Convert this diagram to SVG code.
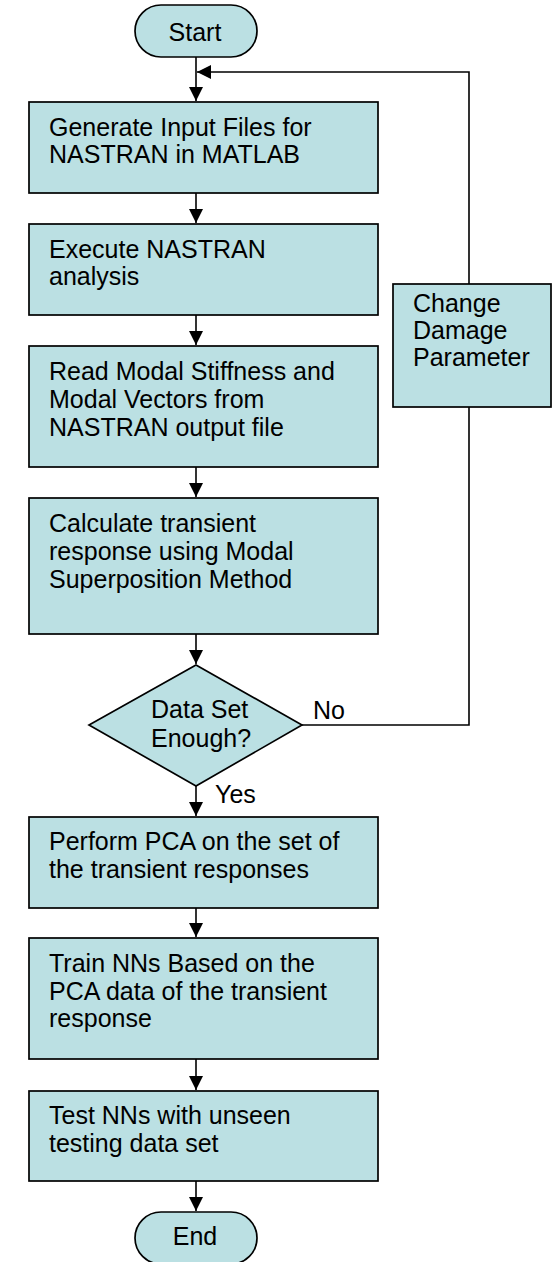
<svg xmlns="http://www.w3.org/2000/svg" width="552" height="1262" viewBox="0 0 552 1262">
<defs>
<style>
.n{fill:#BBE0E3;stroke:#000;stroke-width:1.7}
.c{fill:none;stroke:#000;stroke-width:1.6}
text{font-family:"Liberation Sans",Arial,sans-serif;font-size:25px;fill:#000}
</style>
<marker id="ah" markerUnits="userSpaceOnUse" markerWidth="16" markerHeight="16" refX="14" refY="7" orient="auto">
<path d="M0,0 L14,7 L0,14 Z" fill="#000"/>
</marker>
</defs>
<rect width="552" height="1262" fill="#fff"/>
<g id="connectors">
<line class="c" x1="196" y1="57" x2="196" y2="101" marker-end="url(#ah)"/>
<line class="c" x1="196" y1="193" x2="196" y2="223" marker-end="url(#ah)"/>
<line class="c" x1="196" y1="315" x2="196" y2="345" marker-end="url(#ah)"/>
<line class="c" x1="196" y1="467" x2="196" y2="497" marker-end="url(#ah)"/>
<line class="c" x1="196" y1="634" x2="196" y2="664" marker-end="url(#ah)"/>
<line class="c" x1="196" y1="786" x2="196" y2="816" marker-end="url(#ah)"/>
<line class="c" x1="196" y1="908" x2="196" y2="937" marker-end="url(#ah)"/>
<line class="c" x1="196" y1="1059" x2="196" y2="1090" marker-end="url(#ah)"/>
<line class="c" x1="196" y1="1181" x2="196" y2="1211" marker-end="url(#ah)"/>
<polyline class="c" points="302,725 469,725 469,407"/>
<polyline class="c" points="469,284 469,72 197,72" marker-end="url(#ah)"/>
<text x="313" y="719">No</text>
<text x="215" y="803">Yes</text>
</g>
<g id="start">
<rect class="n" x="135" y="5" width="122" height="52" rx="26"/>
<text x="195" y="41" text-anchor="middle">Start</text>
</g>
<g id="gen">
<rect class="n" x="29" y="102" width="349" height="91"/>
<text x="49" y="136">Generate Input Files for</text>
<text x="49" y="163">NASTRAN in MATLAB</text>
</g>
<g id="exec">
<rect class="n" x="29" y="224" width="349" height="91"/>
<text x="49" y="258">Execute NASTRAN</text>
<text x="49" y="285">analysis</text>
</g>
<g id="read">
<rect class="n" x="29" y="346" width="349" height="121"/>
<text x="49" y="380">Read Modal Stiffness and</text>
<text x="49" y="408">Modal Vectors from</text>
<text x="49" y="436">NASTRAN output file</text>
</g>
<g id="calc">
<rect class="n" x="29" y="498" width="349" height="136"/>
<text x="49" y="532">Calculate transient</text>
<text x="49" y="560">response using Modal</text>
<text x="49" y="588">Superposition Method</text>
</g>
<g id="decision">
<polygon class="n" points="196,665 302,725 196,786 89,725"/>
<text x="151" y="718">Data Set</text>
<text x="151" y="747">Enough?</text>
</g>
<g id="change">
<rect class="n" x="393" y="284" width="158" height="123"/>
<text x="413" y="312">Change</text>
<text x="413" y="339">Damage</text>
<text x="413" y="366">Parameter</text>
</g>
<g id="pca">
<rect class="n" x="29" y="817" width="349" height="91"/>
<text x="49" y="850">Perform PCA on the set of</text>
<text x="49" y="878">the transient responses</text>
</g>
<g id="train">
<rect class="n" x="29" y="938" width="349" height="121"/>
<text x="49" y="972">Train NNs Based on the</text>
<text x="49" y="1000">PCA data of the transient</text>
<text x="49" y="1027">response</text>
</g>
<g id="test">
<rect class="n" x="29" y="1091" width="349" height="90"/>
<text x="49" y="1124">Test NNs with unseen</text>
<text x="49" y="1152">testing data set</text>
</g>
<g id="end">
<rect class="n" x="135" y="1212" width="122" height="52" rx="26"/>
<text x="195" y="1245" text-anchor="middle">End</text>
</g>
</svg>
